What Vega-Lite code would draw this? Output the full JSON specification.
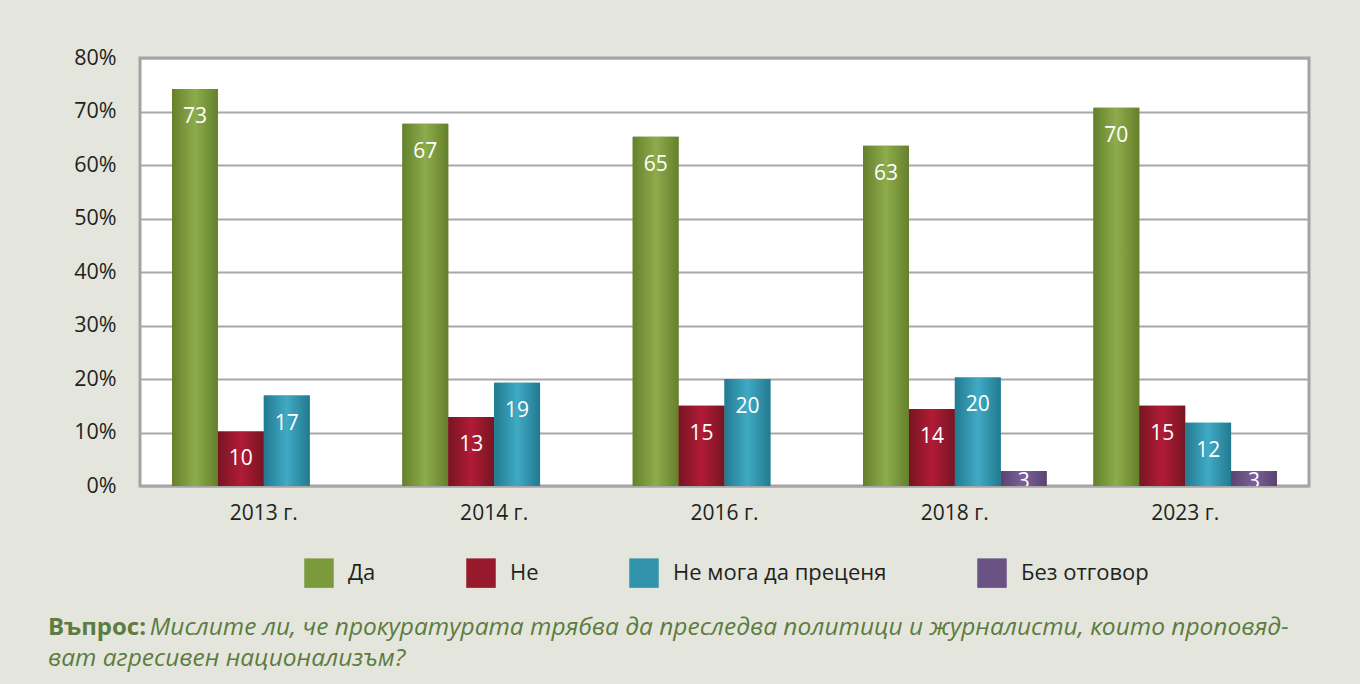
{
  "$schema": "https://vega.github.io/schema/vega-lite/v6.json",
  "width": 1169,
  "height": 428,
  "autosize": {"type": "none"},
  "padding": {"left": 140, "top": 58, "right": 51, "bottom": 198},
  "background": "#e4e6dd",
  "config": {
    "font": "Open Sans",
    "view": {"fill": "white", "stroke": "#a3a3a3", "strokeWidth": 3}
  },
  "title": {
    "text": "Въпрос:",
    "subtitle": ["\u200b\u00a0\u00a0\u00a0\u00a0\u00a0\u00a0\u00a0\u00a0\u00a0\u00a0\u00a0\u00a0\u00a0\u00a0\u00a0\u00a0Мислите ли, че прокуратурата трябва да преследва политици и журналисти, които проповяд-", "ват агресивен национализъм?"],
    "orient": "bottom",
    "anchor": "start",
    "frame": "group",
    "dx": -92,
    "offset": 28,
    "fontSize": 24,
    "fontWeight": "bold",
    "color": "#5c7c40",
    "subtitleFont": "Open Sans",
    "subtitleFontSize": 24.5,
    "subtitleFontStyle": "italic",
    "subtitleFontWeight": "normal",
    "subtitleColor": "#5c7c40",
    "subtitlePadding": -24,
    "subtitleLineHeight": 31
  },
  "data": {
    "values": [
      {"year": "2013 г.", "answer": "Да", "value": 74.2, "label": "73"},
      {"year": "2013 г.", "answer": "Не", "value": 10.2, "label": "10"},
      {"year": "2013 г.", "answer": "Не мога да преценя", "value": 16.9, "label": "17"},
      {"year": "2014 г.", "answer": "Да", "value": 67.7, "label": "67"},
      {"year": "2014 г.", "answer": "Не", "value": 12.9, "label": "13"},
      {"year": "2014 г.", "answer": "Не мога да преценя", "value": 19.3, "label": "19"},
      {"year": "2016 г.", "answer": "Да", "value": 65.3, "label": "65"},
      {"year": "2016 г.", "answer": "Не", "value": 15.0, "label": "15"},
      {"year": "2016 г.", "answer": "Не мога да преценя", "value": 20.0, "label": "20"},
      {"year": "2018 г.", "answer": "Да", "value": 63.6, "label": "63"},
      {"year": "2018 г.", "answer": "Не", "value": 14.4, "label": "14"},
      {"year": "2018 г.", "answer": "Не мога да преценя", "value": 20.3, "label": "20"},
      {"year": "2018 г.", "answer": "Без отговор", "value": 2.8, "label": "3"},
      {"year": "2023 г.", "answer": "Да", "value": 70.7, "label": "70"},
      {"year": "2023 г.", "answer": "Не", "value": 15.0, "label": "15"},
      {"year": "2023 г.", "answer": "Не мога да преценя", "value": 11.8, "label": "12"},
      {"year": "2023 г.", "answer": "Без отговор", "value": 2.8, "label": "3"}
    ]
  },
  "encoding": {
    "x": {
      "field": "year",
      "type": "nominal",
      "sort": null,
      "scale": {"paddingInner": 0.203, "paddingOuter": 0.139},
      "axis": {
        "title": null,
        "labelAngle": 0,
        "labelFontSize": 21,
        "labelColor": "#231f20",
        "labelPadding": 16,
        "ticks": false,
        "domain": false,
        "grid": false
      }
    },
    "xOffset": {
      "field": "answer",
      "type": "nominal",
      "scale": {"domain": ["Да", "Не", "Не мога да преценя", "Без отговор"], "paddingInner": 0, "paddingOuter": 0}
    },
    "y": {
      "field": "value",
      "type": "quantitative",
      "scale": {"domain": [0, 80], "nice": false},
      "axis": {
        "title": null,
        "values": [0, 10, 20, 30, 40, 50, 60, 70, 80],
        "labelExpr": "datum.value + '%'",
        "labelFontSize": 21.5,
        "labelColor": "#231f20",
        "labelPadding": 24,
        "ticks": false,
        "domain": false,
        "grid": true,
        "gridColor": "#a7a7a7",
        "gridWidth": 2
      }
    }
  },
  "layer": [
    {
      "mark": {"type": "bar"},
      "encoding": {
        "color": {
          "field": "answer",
          "type": "nominal",
          "scale": {
            "domain": ["Да", "Не", "Не мога да преценя", "Без отговор"],
            "range": ["#7a9a3c", "#961a2c", "#3194ac", "#6a5285"]
          },
          "legend": {
            "title": null,
            "orient": "none",
            "legendX": 164,
            "legendY": 500,
            "direction": "horizontal",
            "symbolType": "square",
            "symbolSize": 870,
            "symbolStrokeWidth": 0,
            "symbolOpacity": 1,
            "labelFontSize": 22,
            "labelColor": "#231f20",
            "labelOffset": 14,
            "labelLimit": 400,
            "columnPadding": 90
          }
        }
      }
    },
    {
      "mark": {"type": "bar"},
      "encoding": {
        "color": {
          "condition": [
            {"test": "datum.answer === 'Да'", "value": {"gradient": "linear", "x1": 0, "y1": 0, "x2": 1, "y2": 0, "stops": [{"offset": 0, "color": "#65802c"}, {"offset": 0.5, "color": "#8dac4c"}, {"offset": 1, "color": "#65802c"}]}},
            {"test": "datum.answer === 'Не'", "value": {"gradient": "linear", "x1": 0, "y1": 0, "x2": 1, "y2": 0, "stops": [{"offset": 0, "color": "#771522"}, {"offset": 0.5, "color": "#b11b36"}, {"offset": 1, "color": "#771522"}]}},
            {"test": "datum.answer === 'Не мога да преценя'", "value": {"gradient": "linear", "x1": 0, "y1": 0, "x2": 1, "y2": 0, "stops": [{"offset": 0, "color": "#227a90"}, {"offset": 0.5, "color": "#40aac4"}, {"offset": 1, "color": "#227a90"}]}}
          ],
          "value": {"gradient": "linear", "x1": 0, "y1": 0, "x2": 1, "y2": 0, "stops": [{"offset": 0, "color": "#584470"}, {"offset": 0.5, "color": "#7c5f9a"}, {"offset": 1, "color": "#584470"}]}
        }
      }
    },
    {
      "transform": [{"filter": "datum.value >= 5"}],
      "mark": {"type": "text", "baseline": "top", "dy": 17, "fontSize": 21, "color": "white", "clip": true},
      "encoding": {"text": {"field": "label"}}
    },
    {
      "transform": [{"filter": "datum.value < 5"}],
      "mark": {"type": "text", "baseline": "top", "dy": 0, "fontSize": 21, "color": "white", "clip": true},
      "encoding": {"text": {"field": "label"}}
    }
  ]
}
